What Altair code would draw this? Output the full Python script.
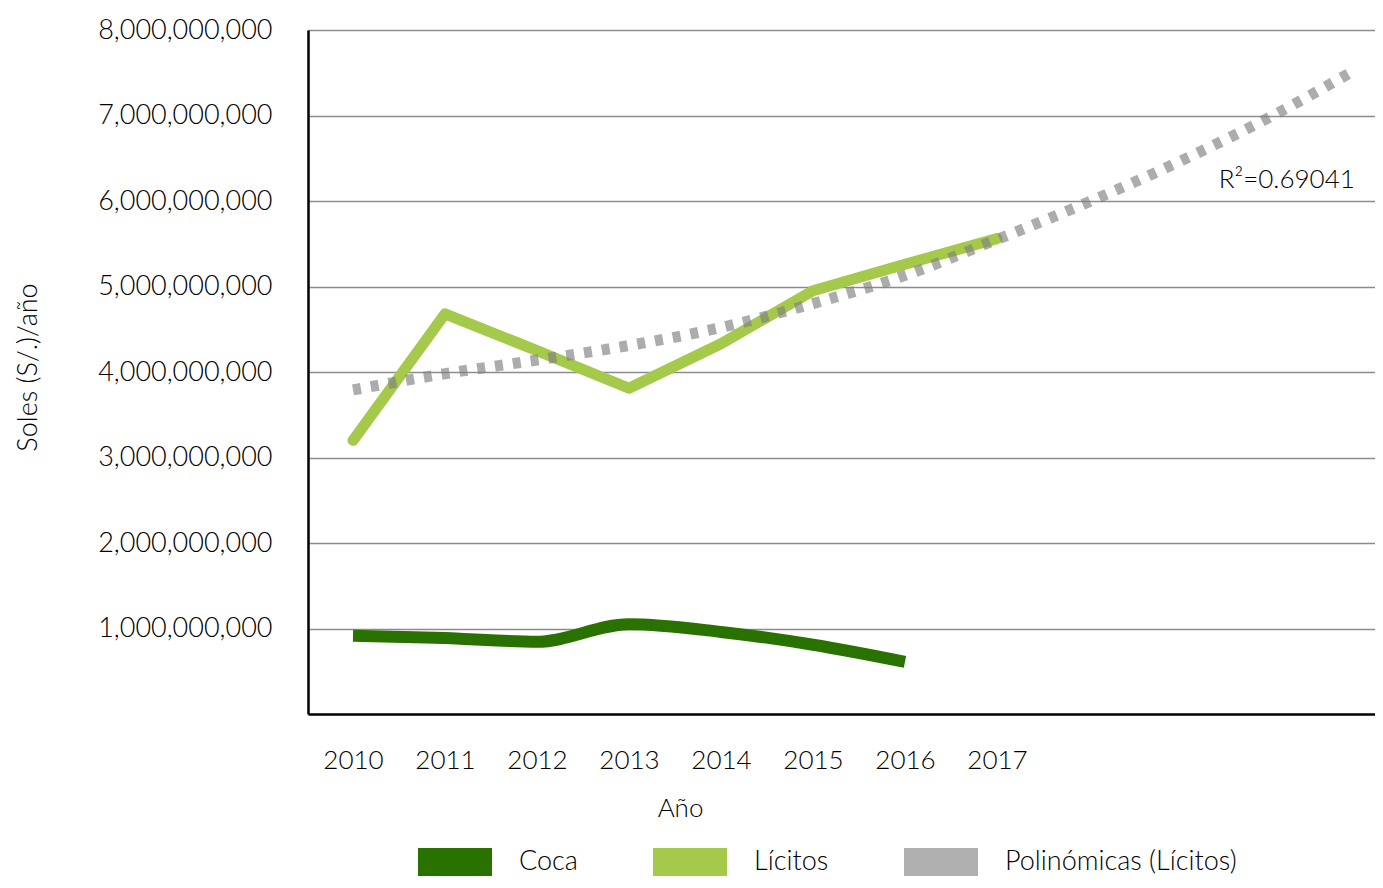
import altair as alt
import pandas as pd

# ---------------- data ----------------
years = [2010, 2011, 2012, 2013, 2014, 2015, 2016, 2017]
licitos = [3.20e9, 4.68e9, 4.25e9, 3.81e9, 4.33e9, 4.95e9, 5.26e9, 5.56e9]

coca_years = [2010, 2011, 2012, 2013, 2014, 2015, 2016]
coca = [0.915e9, 0.89e9, 0.845e9, 1.05e9, 0.96e9, 0.81e9, 0.61e9]

trend_years = [2010, 2011, 2012, 2013, 2014, 2015, 2016, 2017, 2018, 2019, 2020, 2020.84]
trend = [3.79e9, 3.98e9, 4.14e9, 4.31e9, 4.52e9, 4.80e9, 5.13e9, 5.55e9,
         5.99e9, 6.47e9, 7.00e9, 7.50e9]

series = ["Coca", "Lícitos", "Polinómicas (Lícitos)"]
series_colors = ["#2A7200", "#A5C94A", "#B0B0B0"]

y_ticks = [1e9, 2e9, 3e9, 4e9, 5e9, 6e9, 7e9, 8e9]
x_ticks = years

r2_label = "R²=0.69041"
r2_year = 2020.89
r2_value = 6.25e9

# ---------------- tables ----------------
df_lic = pd.DataFrame({"year": years, "value": licitos})
df_coca = pd.DataFrame({"year": coca_years, "value": coca})
df_trend = pd.DataFrame({"year": trend_years, "value": trend})
df_series = pd.DataFrame({"serie": series})
df_r2 = pd.DataFrame({"year": [r2_year], "value": [r2_value], "label": [r2_label]})

FONT = "Lato"
WEIGHT = 300
RECT = "M-1,-0.378H1V0.378H-1Z"

x_scale = alt.Scale(domain=[2009.511, 2021.109], nice=False, zero=False)
y_scale = alt.Scale(domain=[0, 8e9], nice=False)

x_axis = alt.Axis(
    values=x_ticks, format="d", title="Año",
    labelFont=FONT, labelFontSize=26, labelFontWeight=WEIGHT, labelColor="black",
    labelPadding=33, labelFlush=False,
    ticks=False, tickSize=0, grid=False,
    domainColor="black", domainWidth=2.5,
    titleFont=FONT, titleFontSize=26, titleFontWeight=WEIGHT, titleColor="black",
    titleX=372, titleY=94, titleBaseline="middle", titleAlign="center",
)
y_axis = alt.Axis(
    values=y_ticks, format=",.0f", title="Soles (S/.)/año",
    labelFont=FONT, labelFontSize=27, labelFontWeight=WEIGHT, labelColor="black",
    labelPadding=36, labelFlush=False,
    ticks=False, tickSize=0,
    grid=True, gridColor="#8C8C8C", gridWidth=1.5,
    domainColor="black", domainWidth=2.5,
    titleFont=FONT, titleFontSize=27, titleFontWeight=WEIGHT, titleColor="black",
    titleX=-280, titleY=337, titleAngle=270, titleBaseline="middle", titleAlign="center",
)

X = alt.X("year:Q", scale=x_scale, axis=x_axis)
Y = alt.Y("value:Q", scale=y_scale, axis=y_axis)

legend_layer = alt.Chart(df_series).mark_point(
    filled=True, shape=RECT, size=5476, opacity=1
).encode(
    color=alt.Color(
        "serie:N",
        scale=alt.Scale(domain=series, range=series_colors),
        legend=alt.Legend(
            title=None, orient="none", legendX=110, legendY=795,
            direction="horizontal", symbolType=RECT, symbolSize=5476,
            symbolStrokeWidth=0, symbolOpacity=1,
            labelFont=FONT, labelFontSize=27, labelFontWeight=WEIGHT,
            labelColor="black",
            labelOffset=27, columnPadding=75, labelLimit=500, padding=0,
        ),
    )
).transform_filter("false")

coca_line = alt.Chart(df_coca).mark_line(
    color="#2A7200", strokeWidth=12, interpolate="monotone", strokeCap="butt"
).encode(x=X, y=Y)

lic_line = alt.Chart(df_lic).mark_line(
    color="#A5C94A", strokeWidth=11, strokeCap="round", strokeJoin="round"
).encode(x=X, y=Y)

trend_line = alt.Chart(df_trend).mark_line(
    color="#808080", opacity=0.65, strokeWidth=11, strokeDash=[8, 10],
    interpolate="monotone", strokeCap="butt"
).encode(x=X, y=Y)

r2_text = alt.Chart(df_r2).mark_text(
    align="right", baseline="middle", font=FONT, fontSize=26,
    fontWeight=WEIGHT, color="black"
).encode(x=X, y=Y, text="label:N")

chart = alt.layer(legend_layer, coca_line, lic_line, trend_line, r2_text).properties(
    width=1067, height=684,
    padding={"left": 300, "top": 22, "right": 0, "bottom": 166},
    autosize=alt.AutoSizeParams(type="none"),
).configure_view(stroke="transparent")

chart.save("out.html", embed_options={"renderer": "svg", "actions": False})
